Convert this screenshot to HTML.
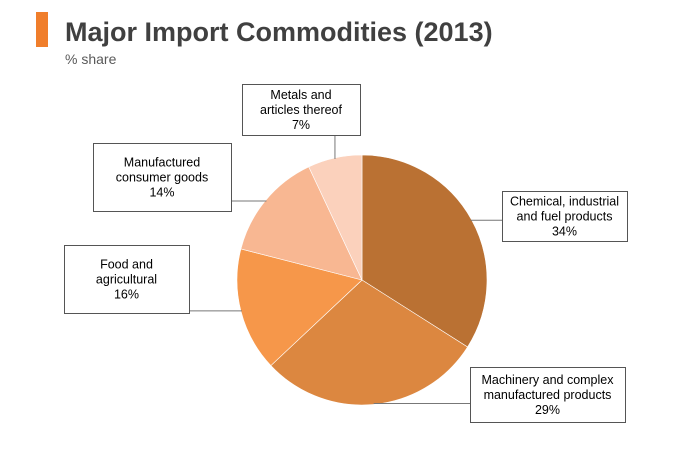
<!DOCTYPE html>
<html><head><meta charset="utf-8"><style>
body{margin:0;background:#fff;}
svg{display:block;font-family:"Liberation Sans",Arial,sans-serif;}
</style></head><body>
<svg width="700" height="450" viewBox="0 0 700 450">
<rect x="36" y="12" width="12" height="35" fill="#F07E2B"/>
<text x="65" y="41" font-size="27" font-weight="bold" fill="#404040">Major Import Commodities (2013)</text>
<text x="65" y="64" font-size="14" fill="#595959">% share</text>
<g id="pie"></g>
<g id="labels"></g>
</svg>
<script>
const categories=["Chemical, industrial|and fuel products","Machinery and complex|manufactured products","Food and|agricultural","Manufactured|consumer goods","Metals and|articles thereof"];
const values=[34,29,16,14,7];
const colors=["#BA7133","#DC8740","#F6974A","#F8B792","#FBD1BC"];
const boxes=[[502,191,125,50],[470,367,155,55],[64,245,125,68],[93,143,138,68],[242,84,118,51]];
const cx=362,cy=280,r=125;
const NS="http://www.w3.org/2000/svg";
const pie=document.getElementById('pie'),lab=document.getElementById('labels');
const total=values.reduce((a,b)=>a+b,0);
let a0=0;
function pt(a,rr){return [cx+rr*Math.sin(a),cy-rr*Math.cos(a)];}
values.forEach((v,i)=>{
  const a1=a0+v/total*2*Math.PI;
  const p0=pt(a0,r),p1=pt(a1,r);
  const path=document.createElementNS(NS,'path');
  path.setAttribute('d',`M${cx},${cy}L${p0[0]},${p0[1]}A${r},${r} 0 ${a1-a0>Math.PI?1:0} 1 ${p1[0]},${p1[1]}Z`);
  path.setAttribute('fill',colors[i]);path.setAttribute('stroke','#fff');path.setAttribute('stroke-width','0.6');
  
  
  pie.appendChild(path);
  const m=(a0+a1)/2,pe=pt(m,r-1);
  const [bx,by,bw,bh]=boxes[i];
  let ex=pe[0]<bx?bx:(pe[0]>bx+bw?bx+bw:pe[0]);
  let ey=pe[1]<by?by:(pe[1]>by+bh?by+bh:pe[1]);
  if(ex>bx&&ex<bx+bw){ey=pe[1]<by?by:by+bh;}
  const ln=document.createElementNS(NS,'line');
  ln.setAttribute('x1',pe[0]);ln.setAttribute('y1',pe[1]);ln.setAttribute('x2',ex);ln.setAttribute('y2',ey);
  ln.setAttribute('stroke','#777');ln.setAttribute('stroke-width','1');
  
  
  lab.appendChild(ln);
  const rc=document.createElementNS(NS,'rect');
  rc.setAttribute('x',bx+0.5);rc.setAttribute('y',by+0.5);rc.setAttribute('width',bw);rc.setAttribute('height',bh);
  rc.setAttribute('fill','#fff');rc.setAttribute('stroke','#555');
  
  
  lab.appendChild(rc);
  const lines=categories[i].split('|').concat([v+'%']);
  const lh=15,start=by+bh/2-(lines.length*lh)/2+12;
  lines.forEach((t,k)=>{
    const tx=document.createElementNS(NS,'text');
    tx.setAttribute('x',bx+bw/2);tx.setAttribute('y',start+k*lh);
    tx.setAttribute('text-anchor','middle');tx.setAttribute('font-size','12.5');tx.setAttribute('fill','#000');
    
    
    tx.textContent=t;lab.appendChild(tx);
  });
  a0=a1;
});
</script>
</body></html>
